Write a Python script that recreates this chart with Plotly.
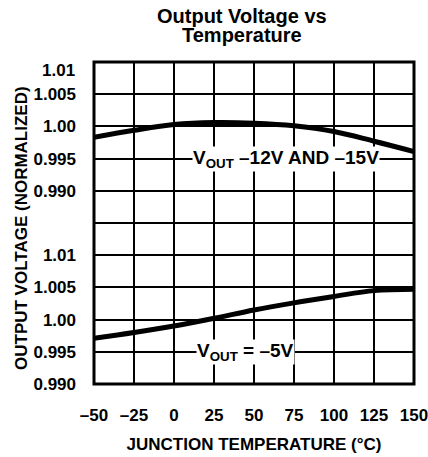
import plotly.graph_objects as go
from plotly.subplots import make_subplots

temps = [-50, -25, 0, 25, 50, 75, 100, 125, 150]
v_12_15 = [0.9983, 0.9994, 1.0003, 1.0006, 1.0005, 1.0001, 0.9992, 0.9977, 0.9961]
v_5 = [0.9971, 0.9980, 0.9990, 1.0002, 1.0015, 1.0026, 1.0036, 1.0045, 1.0047]

x_ticks = [-50, -25, 0, 25, 50, 75, 100, 125, 150]
x_ticktext = ["–50", "–25", "0", "25", "50", "75", "100", "125", "150"]
y_ticks_upper = [0.990, 0.995, 1.000, 1.005]
y_ticktext_upper = ["0.990", "0.995", "1.00", "1.005"]
y_ticks_lower = [0.990, 0.995, 1.000, 1.005, 1.010]
y_ticktext_lower = ["0.990", "0.995", "1.00", "1.005", "1.01"]

FONT = "Liberation Sans"
F = dict(family=FONT, size=17, color="black", weight="bold")
LF = dict(family=FONT, size=19, color="black", weight="bold")

# plot area in pixels
L, R, T, B = 94, 414, 62, 384
W, H = R - L, B - T


def px_x(p):
    return (p - L) / W


def px_y(p):
    return (B - p) / H


fig = make_subplots(rows=2, cols=1, shared_xaxes=True, vertical_spacing=0)

fig.add_trace(go.Scatter(x=temps, y=v_12_15, mode="lines",
                         line=dict(color="black", width=5, shape="spline"),
                         showlegend=False), row=1, col=1)
fig.add_trace(go.Scatter(x=temps, y=v_5, mode="lines",
                         line=dict(color="black", width=5, shape="spline"),
                         showlegend=False), row=2, col=1)

common_x = dict(range=[-50, 150], tickvals=x_ticks, ticktext=x_ticktext,
                showgrid=True, gridcolor="black", gridwidth=2,
                showline=False, zeroline=False, ticks="", tickfont=F,
                ticklabeloverflow="allow")
common_y = dict(showgrid=True, gridcolor="black", gridwidth=2,
                showline=False, zeroline=False, ticks="", tickfont=F,
                ticklabelstandoff=17)

fig.update_xaxes(**common_x, showticklabels=False, row=1, col=1)
fig.update_xaxes(**common_x, showticklabels=True, ticklabelstandoff=19,
                 title=dict(text="JUNCTION TEMPERATURE (°C)", standoff=14, font=F),
                 row=2, col=1)
fig.update_yaxes(**common_y, range=[0.985, 1.010], tickvals=y_ticks_upper,
                 ticktext=y_ticktext_upper, row=1, col=1)
fig.update_yaxes(**common_y, range=[0.990, 1.015], tickvals=y_ticks_lower,
                 ticktext=y_ticktext_lower, row=2, col=1)

# frame and section divider
fig.add_shape(type="rect", xref="paper", yref="paper", x0=0, y0=0, x1=1, y1=1,
              line=dict(color="black", width=3))
fig.add_shape(type="line", xref="paper", yref="paper", x0=0, y0=0.5, x1=1, y1=0.5,
              line=dict(color="black", width=2))

# top "1.01" label (sits slightly below the frame line, as in the original)
fig.add_annotation(x=0, y=1.01, xref="paper", yref="y", text="1.01",
                   showarrow=False, xanchor="right", yanchor="middle",
                   xshift=-17, yshift=-8, font=F)

fig.add_annotation(x=70, y=0.995, xref="x", yref="y",
                   text="V<sub>OUT</sub> –12V AND –15V", showarrow=False,
                   xanchor="center", yanchor="middle",
                   bgcolor="white", borderpad=0, font=LF)
fig.add_annotation(x=44.5, y=0.995, xref="x2", yref="y2",
                   text="V<sub>OUT</sub> = –5V", showarrow=False,
                   xanchor="center", yanchor="middle",
                   bgcolor="white", borderpad=0, font=LF)

fig.add_annotation(x=px_x(21), y=px_y(228), xref="paper", yref="paper",
                   text="OUTPUT VOLTAGE (NORMALIZED)", showarrow=False, textangle=-90,
                   xanchor="center", yanchor="middle", font=F)

# title, two lines
TF = dict(family=FONT, size=20, color="black", weight="bold")
fig.add_annotation(x=px_x(242), y=px_y(16), xref="paper", yref="paper",
                   text="Output Voltage vs", showarrow=False,
                   xanchor="center", yanchor="middle", font=TF)
fig.add_annotation(x=px_x(242), y=px_y(35), xref="paper", yref="paper",
                   text="Temperature", showarrow=False,
                   xanchor="center", yanchor="middle", font=TF)

fig.update_layout(
    width=428, height=457,
    margin=dict(l=L, r=428 - R, t=T, b=457 - B, autoexpand=False),
    paper_bgcolor="white", plot_bgcolor="white",
)

fig.write_html("out.html", config={"displayModeBar": False},
               post_script="document.body.style.margin='0px';document.body.style.overflow='hidden';")
